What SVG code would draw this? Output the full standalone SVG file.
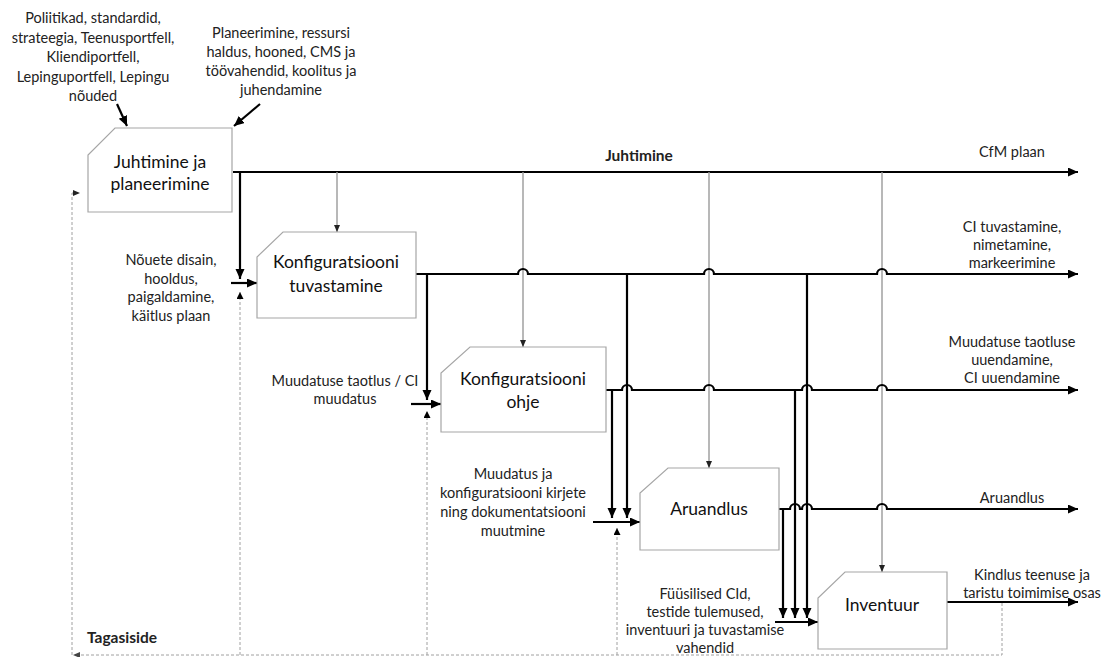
<svg xmlns="http://www.w3.org/2000/svg" width="1102" height="657" viewBox="0 0 1102 657">
<style>
.t{font-family:Lato,'Liberation Sans',sans-serif;font-size:14.5px;text-anchor:middle;fill:#222}
.n{font-family:Lato,'Liberation Sans',sans-serif;font-size:17.5px;text-anchor:middle;fill:#111}
.b{font-weight:bold}
.node{fill:#fff;stroke:#a6a6a6;stroke-width:1.2}
.k{fill:none;stroke:#000;stroke-width:2.2}
.g{fill:none;stroke:#9a9a9a;stroke-width:1.4}
.d{fill:none;stroke:#a0a0a0;stroke-width:1;stroke-dasharray:3 2}
</style>
<defs>
<marker id="ak" markerUnits="userSpaceOnUse" markerWidth="12" markerHeight="10" refX="10" refY="4.5" orient="auto"><path d="M0,0 L10,4.5 L0,9 z" fill="#000"/></marker>
<marker id="ag" markerUnits="userSpaceOnUse" markerWidth="8" markerHeight="8" refX="7" refY="3" orient="auto"><path d="M0,0 L7,3 L0,6 z" fill="#222"/></marker>
<marker id="as" markerUnits="userSpaceOnUse" markerWidth="8" markerHeight="8" refX="7" refY="3.5" orient="auto"><path d="M0,0 L7,3.5 L0,7 z" fill="#000"/></marker>
</defs>
<rect width="1102" height="657" fill="#fff"/>

<g id="texts">
<text class="t" x="93" y="23">Poliitikad, standardid,</text>
<text class="t" x="93" y="42.5">strateegia, Teenusportfell,</text>
<text class="t" x="93" y="62">Kliendiportfell,</text>
<text class="t" x="93" y="81.5">Lepinguportfell, Lepingu</text>
<text class="t" x="93" y="101">nõuded</text>
<text class="t" x="281" y="38">Planeerimine, ressursi</text>
<text class="t" x="281" y="57">haldus, hooned, CMS ja</text>
<text class="t" x="281" y="76">töövahendid, koolitus ja</text>
<text class="t" x="281" y="95">juhendamine</text>
<text class="t b" x="639" y="161" style="font-size:15.5px">Juhtimine</text>
<text class="t" x="1012" y="157">CfM plaan</text>
<text class="t" x="1012" y="232">CI tuvastamine,</text>
<text class="t" x="1012" y="250">nimetamine,</text>
<text class="t" x="1012" y="268">markeerimine</text>
<text class="t" x="1012" y="347">Muudatuse taotluse</text>
<text class="t" x="1012" y="365">uuendamine,</text>
<text class="t" x="1012" y="383">CI uuendamine</text>
<text class="t" x="1012" y="503">Aruandlus</text>
<text class="t" x="1032" y="580">Kindlus teenuse ja</text>
<text class="t" x="1032" y="598">taristu toimimise osas</text>
<text class="t" x="171" y="265">Nõuete disain,</text>
<text class="t" x="171" y="283.5">hooldus,</text>
<text class="t" x="171" y="302">paigaldamine,</text>
<text class="t" x="171" y="320.5">käitlus plaan</text>
<text class="t" x="345" y="386">Muudatuse taotlus / CI</text>
<text class="t" x="345" y="404">muudatus</text>
<text class="t" x="513" y="479">Muudatus ja</text>
<text class="t" x="513" y="498">konfiguratsiooni kirjete</text>
<text class="t" x="513" y="517">ning dokumentatsiooni</text>
<text class="t" x="513" y="536">muutmine</text>
<text class="t" x="705" y="599">Füüsilised CId,</text>
<text class="t" x="705" y="617">testide tulemused,</text>
<text class="t" x="705" y="635">inventuuri ja tuvastamise</text>
<text class="t" x="705" y="653">vahendid</text>
<text class="t b" x="122" y="643" style="font-size:15.5px">Tagasiside</text>
</g>

<g id="connectors">
<!-- feedback dashed -->
<path class="d" d="M1002 603 V655 H74"/>
<path d="M80,652 L73,655 L80,658 z" fill="#444"/>
<path class="d" d="M72 655 V193 H80" marker-end="url(#ag)"/>
<path class="d" d="M240 655 V292" marker-end="url(#as)"/>
<path class="d" d="M427 655 V411" marker-end="url(#as)"/>
<path class="d" d="M617 655 V528" marker-end="url(#as)"/>
<!-- top input arrows -->
<path class="k" d="M117 104 L127 126" marker-end="url(#ak)"/>
<path class="k" d="M260 104 L234 126" marker-end="url(#ak)"/>
<!-- line 1 -->
<path class="k" d="M233 172 H1078" marker-end="url(#ak)"/>
<path class="k" d="M240 172 V279" marker-end="url(#ak)"/>
<path class="k" d="M231 283 H257" marker-end="url(#ak)"/>
<!-- gray control verticals -->
<path class="g" d="M337 172 V232" marker-end="url(#ag)"/>
<path class="g" d="M523 172 V347" marker-end="url(#ag)"/>
<path class="g" d="M709 172 V468" marker-end="url(#ag)"/>
<path class="g" d="M882 172 V572" marker-end="url(#ag)"/>
<!-- line 2 -->
<path class="k" d="M416 274 H518 A5 5 0 0 1 528 274 H704 A5 5 0 0 1 714 274 H877 A5 5 0 0 1 887 274 H1078" marker-end="url(#ak)"/>
<path class="k" d="M427 274 V400" marker-end="url(#ak)"/>
<path class="k" d="M411 404 H441" marker-end="url(#ak)"/>
<path class="k" d="M627 274 V518" marker-end="url(#ak)"/>
<path class="k" d="M807 274 V618" marker-end="url(#ak)"/>
<!-- line 3 -->
<path class="k" d="M606 390 H622 A5 5 0 0 1 632 390 H704 A5 5 0 0 1 714 390 H802 A5 5 0 0 1 812 390 H877 A5 5 0 0 1 887 390 H1078" marker-end="url(#ak)"/>
<path class="k" d="M612 390 V518" marker-end="url(#ak)"/>
<path class="k" d="M795 390 V618" marker-end="url(#ak)"/>
<path class="k" d="M593 522 H640" marker-end="url(#ak)"/>
<!-- line 4 -->
<path class="k" d="M779 509 H790 A5 5 0 0 1 800 509 H802 A5 5 0 0 1 812 509 H877 A5 5 0 0 1 887 509 H1078" marker-end="url(#ak)"/>
<path class="k" d="M783 509 V618" marker-end="url(#ak)"/>
<path class="k" d="M775 622 H818" marker-end="url(#ak)"/>
<!-- line 5 -->
<path class="k" d="M947 602 H1078" marker-end="url(#ak)"/>
</g>

<g id="node-juhtimine">
<path class="node" d="M115 128 H232 V212 H88 V155 Z"/>
<text class="n" x="160" y="168">Juhtimine ja</text>
<text class="n" x="160" y="190">planeerimine</text>
</g>
<g id="node-tuvastamine">
<path class="node" d="M283 232 H416 V318 H257 V257 Z"/>
<text class="n" x="336" y="268">Konfiguratsiooni</text>
<text class="n" x="336" y="292">tuvastamine</text>
</g>
<g id="node-ohje">
<path class="node" d="M470 347 H606 V432 H441 V373 Z"/>
<text class="n" x="523" y="385">Konfiguratsiooni</text>
<text class="n" x="523" y="408">ohje</text>
</g>
<g id="node-aruandlus">
<path class="node" d="M668 468 H779 V550 H640 V493 Z"/>
<text class="n" x="709" y="515">Aruandlus</text>
</g>
<g id="node-inventuur">
<path class="node" d="M845 572 H947 V649 H818 V598 Z"/>
<text class="n" x="882" y="611">Inventuur</text>
</g>
</svg>
